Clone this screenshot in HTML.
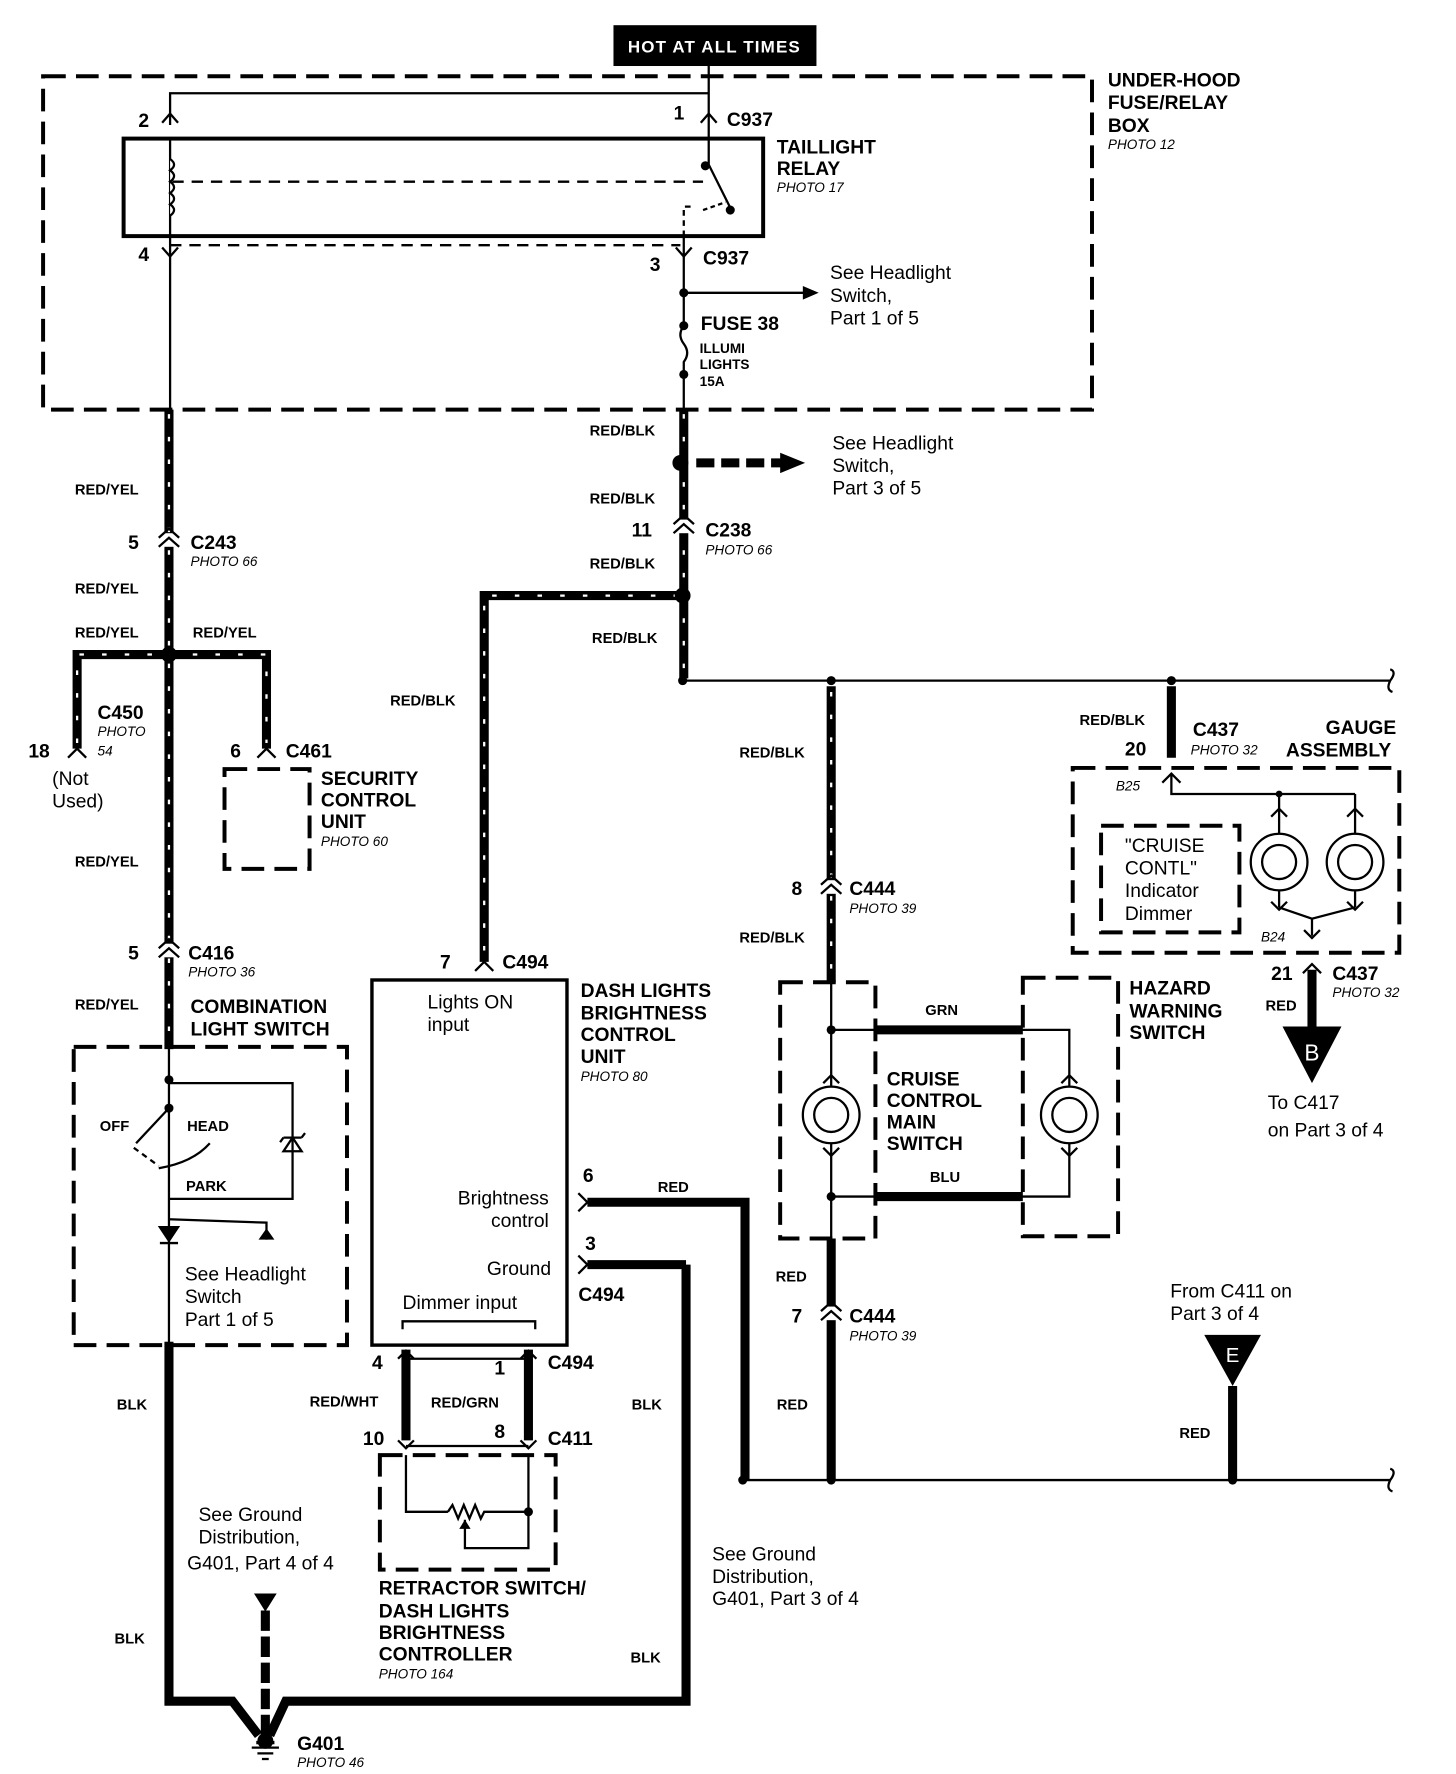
<!DOCTYPE html>
<html><head><meta charset="utf-8"><style>
html,body{margin:0;padding:0;background:#fff}
svg{display:block}
text{font-family:"Liberation Sans",Arial,sans-serif;fill:#000}
.b{font-weight:bold;font-size:17px}
.s{font-weight:bold;font-size:13px}
.n{font-size:17px}
.i{font-style:italic;font-size:12px}
.d{fill:none;stroke:#000;stroke-width:3.5;stroke-dasharray:20 9}
.t{fill:none;stroke:#000;stroke-width:2}
.w{fill:none;stroke:#000;stroke-width:8}
.st{fill:none;stroke:#fff;stroke-width:2;stroke-dasharray:4 16}
</style></head><body>
<svg width="1456" height="1774" viewBox="0 0 1284 1564" xmlns="http://www.w3.org/2000/svg">
<rect x="0" y="0" width="1284" height="1564" fill="#fff"/>
<!-- top label -->
<rect x="541" y="22" width="179" height="36" fill="#000"/>
<text x="630" y="46" text-anchor="middle" style="fill:#fff;font-size:15px;font-weight:bold;letter-spacing:1px">HOT AT ALL TIMES</text>
<line x1="625" y1="58" x2="625" y2="100" class="t"/>
<!-- fuse box -->
<rect x="38" y="67" width="925" height="294" class="d"/>
<text x="977" y="76" class="b">UNDER-HOOD</text>
<text x="977" y="96" class="b">FUSE/RELAY</text>
<text x="977" y="116" class="b">BOX</text>
<text x="977" y="131" class="i">PHOTO 12</text>
<polyline points="150,110 150,82 625,82" class="t"/>
<path d="M143,108 l7,-8 l7,8 M618,108 l7,-8 l7,8" class="t"/>
<line x1="625" y1="100" x2="625" y2="122" class="t"/>
<text x="122" y="112" class="b">2</text>
<text x="594" y="105" class="b">1</text>
<text x="641" y="111" class="b">C937</text>
<rect x="109" y="122" width="564" height="86" fill="none" stroke="#000" stroke-width="3.5"/>
<text x="685" y="135" class="b">TAILLIGHT</text>
<text x="685" y="154" class="b">RELAY</text>
<text x="685" y="169" class="i">PHOTO 17</text>
<line x1="150" y1="122" x2="150" y2="208" class="t"/>
<path d="M150,140 q7,5 0,10 q7,5 0,10 q7,5 0,10 q7,5 0,10 q7,5 0,10" fill="#fff" stroke="#000" stroke-width="2"/>
<line x1="152" y1="160" x2="620" y2="160" class="t" stroke-dasharray="10 7"/>
<polyline points="625,122 625,145 645,185" class="t"/>
<circle cx="622" cy="146" r="4"/><circle cx="644" cy="185" r="4"/>
<polyline points="603,208 603,182 612,182" class="t" stroke-dasharray="5 4"/>
<line x1="620" y1="185" x2="640" y2="178" class="t" stroke-dasharray="4 3"/>
<line x1="150" y1="208" x2="150" y2="361" class="t"/>
<line x1="150" y1="216" x2="600" y2="216" class="t" stroke-dasharray="10 7"/>
<line x1="603" y1="208" x2="603" y2="285" class="t"/>
<path d="M143,218 l7,8 l7,-8 M596,218 l7,8 l7,-8" class="t"/>
<text x="122" y="230" class="b">4</text>
<text x="573" y="239" class="b">3</text>
<text x="620" y="233" class="b">C937</text>
<circle cx="603" cy="258" r="4"/>
<line x1="603" y1="258" x2="712" y2="258" class="t"/>
<path d="M708,252 l14,6 l-14,6z"/>
<text x="732" y="246" class="n">See Headlight</text>
<text x="732" y="266" class="n">Switch,</text>
<text x="732" y="286" class="n">Part 1 of 5</text>
<circle cx="603" cy="287" r="4"/>
<path d="M603,287 q-6,8 0,16 q6,8 0,16 l0,11" class="t"/>
<circle cx="603" cy="330" r="4"/>
<line x1="603" y1="330" x2="603" y2="361" class="t"/>
<text x="618" y="291" class="b">FUSE 38</text>
<text x="617" y="311" class="s" style="font-size:12px">ILLUMI</text>
<text x="617" y="325" class="s" style="font-size:12px">LIGHTS</text>
<text x="617" y="340" class="s" style="font-size:12px">15A</text>

<!-- left main wire -->
<path d="M149,361 V1500 L205,1500 L228,1530" class="w"/>
<path d="M149,365 V1180" class="st"/>
<path d="M149,1190 V1495" class="t" stroke="#fff" stroke-dasharray="2 120" stroke-width="8"/>
<path d="M68,660 V577 H235 V660" class="w"/>
<path d="M68,655 V577 H235 V655" class="st"/>
<circle cx="149" cy="577" r="7"/>
<rect x="140" y="470" width="18" height="12" fill="#fff"/>
<path d="M140,482 l9,-8 l9,8 M140,474 l9,-8 l9,8" class="t" stroke-width="3"/>
<rect x="140" y="832" width="18" height="12" fill="#fff"/>
<path d="M140,844 l9,-8 l9,8 M140,836 l9,-8 l9,8" class="t" stroke-width="3"/>
<path d="M60,668 l8,-8 l8,8 M227,668 l8,-8 l8,8" class="t" stroke-width="3"/>
<text x="66" y="436" class="s">RED/YEL</text>
<text x="113" y="484" class="b">5</text>
<text x="168" y="484" class="b">C243</text>
<text x="168" y="499" class="i">PHOTO 66</text>
<text x="66" y="523" class="s">RED/YEL</text>
<text x="66" y="562" class="s">RED/YEL</text>
<text x="170" y="562" class="s">RED/YEL</text>
<text x="86" y="634" class="b">C450</text>
<text x="86" y="649" class="i">PHOTO</text>
<text x="86" y="666" class="i">54</text>
<text x="25" y="668" class="b">18</text>
<text x="46" y="692" class="n">(Not</text>
<text x="46" y="712" class="n">Used)</text>
<text x="203" y="668" class="b">6</text>
<text x="252" y="668" class="b">C461</text>
<rect x="198" y="678" width="75" height="88" class="d" stroke-dasharray="14 8"/>
<text x="283" y="692" class="b">SECURITY</text>
<text x="283" y="711" class="b">CONTROL</text>
<text x="283" y="730" class="b">UNIT</text>
<text x="283" y="746" class="i">PHOTO 60</text>
<text x="66" y="764" class="s">RED/YEL</text>
<text x="113" y="846" class="b">5</text>
<text x="166" y="846" class="b">C416</text>
<text x="166" y="861" class="i">PHOTO 36</text>
<text x="66" y="890" class="s">RED/YEL</text>
<text x="168" y="893" class="b">COMBINATION</text>
<text x="168" y="913" class="b">LIGHT SWITCH</text>
<rect x="65" y="923" width="241" height="263" class="d" stroke-dasharray="14 8"/>
<rect x="140" y="925" width="18" height="258" fill="#fff"/>
<line x1="149" y1="923" x2="149" y2="1186" class="t"/>
<polyline points="149,955 258,955 258,1057 149,1057" class="t"/>
<circle cx="149" cy="952" r="4"/><circle cx="149" cy="977" r="4"/>
<line x1="149" y1="977" x2="120" y2="1008" class="t" stroke-width="3"/>
<line x1="118" y1="1012" x2="140" y2="1028" class="t" stroke-dasharray="5 4"/>
<path d="M140,1030 q30,-5 45,-22" class="t" stroke-width="7"/>
<path d="M250,1015 h16 l-8,-12z M250,1003 h16 M266,1003 l3,-4 M250,1003 l-3,4"  class="t"/>
<text x="88" y="997" class="s">OFF</text>
<text x="165" y="997" class="s">HEAD</text>
<text x="164" y="1050" class="s">PARK</text>
<path d="M141,1082 h16 l-8,12z M141,1096 h16" fill="#000" stroke="#000" stroke-width="2"/>
<polyline points="149,1075 235,1078 235,1093" class="t"/>
<path d="M228,1093 h14 l-7,-10z"/>
<text x="163" y="1129" class="n">See Headlight</text>
<text x="163" y="1149" class="n">Switch</text>
<text x="163" y="1169" class="n">Part 1 of 5</text>
<text x="103" y="1243" class="s">BLK</text>
<text x="101" y="1449" class="s">BLK</text>
<text x="175" y="1341" class="n">See Ground</text>
<text x="175" y="1361" class="n">Distribution,</text>
<text x="165" y="1384" class="n">G401, Part 4 of 4</text>
<path d="M224,1405 h20 l-10,16z"/>
<line x1="234" y1="1420" x2="234" y2="1530" stroke="#000" stroke-width="8" stroke-dasharray="18 5"/>
<path d="M605,1115 V1500 L252,1500 L238,1530" class="w"/>
<circle cx="234" cy="1535" r="7"/>
<rect x="226" y="1535" width="16" height="3"/>
<line x1="222" y1="1541" x2="246" y2="1541" class="t"/>
<line x1="227" y1="1546" x2="241" y2="1546" class="t"/>
<line x1="231" y1="1551" x2="237" y2="1551" class="t"/>
<text x="262" y="1543" class="b">G401</text>
<text x="262" y="1558" class="i">PHOTO 46</text>

<!-- right red/blk wire -->
<path d="M603,361 V598" class="w"/>
<path d="M603,365 V595" class="st"/>
<path d="M602,525 H427 V848" class="w"/>
<path d="M598,525 H427 V845" class="st"/>
<circle cx="600" cy="408" r="7"/>
<line x1="614" y1="408" x2="690" y2="408" stroke="#000" stroke-width="8" stroke-dasharray="16 6"/>
<path d="M688,399 l22,9 l-22,9z"/>
<text x="734" y="396" class="n">See Headlight</text>
<text x="734" y="416" class="n">Switch,</text>
<text x="734" y="436" class="n">Part 3 of 5</text>
<text x="520" y="384" class="s">RED/BLK</text>
<text x="520" y="444" class="s">RED/BLK</text>
<rect x="594" y="458" width="18" height="12" fill="#fff"/>
<path d="M594,470 l9,-8 l9,8 M594,462 l9,-8 l9,8" class="t" stroke-width="3"/>
<text x="557" y="473" class="b">11</text>
<text x="622" y="473" class="b">C238</text>
<text x="622" y="489" class="i">PHOTO 66</text>
<text x="520" y="501" class="s">RED/BLK</text>
<circle cx="602" cy="525" r="7"/>
<text x="522" y="567" class="s">RED/BLK</text>
<text x="344" y="622" class="s">RED/BLK</text>
<circle cx="602" cy="600" r="4"/>
<line x1="602" y1="600" x2="1226" y2="600" class="t"/>
<path d="M1226,600 q6,-8 0,-10 M1226,600 q-4,8 2,10" class="t"/>
<circle cx="733" cy="600" r="4"/><circle cx="1033" cy="600" r="4"/>
<path d="M733,605 V866" class="w"/>
<path d="M733,610 V860" class="st"/>
<path d="M1033,605 V668" class="w"/>
<text x="652" y="668" class="s">RED/BLK</text>
<rect x="724" y="776" width="18" height="12" fill="#fff"/>
<path d="M724,788 l9,-8 l9,8 M724,780 l9,-8 l9,8" class="t" stroke-width="3"/>
<text x="698" y="789" class="b">8</text>
<text x="749" y="789" class="b">C444</text>
<text x="749" y="805" class="i">PHOTO 39</text>
<text x="652" y="831" class="s">RED/BLK</text>
<text x="952" y="639" class="s">RED/BLK</text>
<text x="992" y="666" class="b">20</text>
<text x="1052" y="649" class="b">C437</text>
<text x="1050" y="665" class="i">PHOTO 32</text>
<text x="1169" y="647" class="b">GAUGE</text>
<text x="1134" y="667" class="b">ASSEMBLY</text>
<rect x="946" y="677" width="288" height="163" class="d" stroke-dasharray="14 8"/>
<path d="M1025,690 l8,-8 l8,8" class="t"/>
<polyline points="1033,682 1033,700 1195,700" class="t"/>
<circle cx="1128" cy="700" r="3"/>
<path d="M1128,700 V715 M1195,700 V715 M1121,720 l7,-7 l7,7 M1188,720 l7,-7 l7,7" class="t"/>
<circle cx="1128" cy="760" r="25" class="t" stroke-width="4"/>
<circle cx="1195" cy="760" r="25" class="t" stroke-width="4"/>
<circle cx="1128" cy="760" r="15" class="t"/><circle cx="1195" cy="760" r="15" class="t"/>
<path d="M1128,715 V735 M1195,715 V735 M1128,785 V800 M1195,785 V800 M1121,795 l7,7 l7,-7 M1188,795 l7,7 l7,-7" class="t"/>
<polyline points="1128,800 1157,810 1195,800" class="t"/>
<path d="M1157,810 V825 M1150,820 l7,7 l7,-7" class="t"/>
<text x="984" y="697" class="i">B25</text>
<text x="1112" y="830" class="i">B24</text>
<rect x="971" y="728" width="122" height="94" class="d" stroke-dasharray="14 8"/>
<text x="992" y="751" class="n">"CRUISE</text>
<text x="992" y="771" class="n">CONTL"</text>
<text x="992" y="791" class="n">Indicator</text>
<text x="992" y="811" class="n">Dimmer</text>
<path d="M1149,858 l8,-8 l8,8" class="t" stroke-width="3"/>
<path d="M1157,855 V905" class="w"/>
<text x="1121" y="864" class="b">21</text>
<text x="1175" y="864" class="b">C437</text>
<text x="1175" y="879" class="i">PHOTO 32</text>
<text x="1116" y="891" class="s">RED</text>
<path d="M1131,905 h52 l-26,50z"/>
<text x="1157" y="935" text-anchor="middle" style="fill:#fff;font-size:20px">B</text>
<text x="1118" y="978" class="n">To C417</text>
<text x="1118" y="1002" class="n">on Part 3 of 4</text>

<!-- cruise / hazard -->
<rect x="688" y="866" width="84" height="226" class="d" stroke-dasharray="14 8"/>
<rect x="902" y="862" width="84" height="228" class="d" stroke-dasharray="14 8"/>
<line x1="733" y1="866" x2="733" y2="958" class="t"/>
<line x1="733" y1="1008" x2="733" y2="1092" class="t"/>
<circle cx="733" cy="983" r="25" class="t" stroke-width="4"/><circle cx="733" cy="983" r="15" class="t"/>
<circle cx="943" cy="983" r="25" class="t" stroke-width="4"/><circle cx="943" cy="983" r="15" class="t"/>
<path d="M726,955 l7,-7 l7,7 M726,1012 l7,7 l7,-7 M936,955 l7,-7 l7,7 M936,1012 l7,7 l7,-7" class="t"/>
<polyline points="733,908 943,908 943,958" class="t"/>
<polyline points="733,1055 943,1055 943,1008" class="t"/>
<line x1="772" y1="908" x2="902" y2="908" stroke="#000" stroke-width="8"/>
<line x1="772" y1="1055" x2="902" y2="1055" stroke="#000" stroke-width="8"/>
<circle cx="733" cy="908" r="4"/><circle cx="733" cy="1055" r="4"/>
<text x="816" y="895" class="s">GRN</text>
<text x="820" y="1042" class="s">BLU</text>
<text x="782" y="957" class="b">CRUISE</text>
<text x="782" y="976" class="b">CONTROL</text>
<text x="782" y="995" class="b">MAIN</text>
<text x="782" y="1014" class="b">SWITCH</text>
<text x="996" y="877" class="b">HAZARD</text>
<text x="996" y="897" class="b">WARNING</text>
<text x="996" y="916" class="b">SWITCH</text>
<path d="M733,1092 V1305" class="w"/>
<rect x="724" y="1152" width="18" height="12" fill="#fff"/>
<path d="M724,1164 l9,-8 l9,8 M724,1156 l9,-8 l9,8" class="t" stroke-width="3"/>
<text x="684" y="1130" class="s">RED</text>
<text x="698" y="1166" class="b">7</text>
<text x="749" y="1166" class="b">C444</text>
<text x="749" y="1182" class="i">PHOTO 39</text>
<text x="685" y="1243" class="s">RED</text>
<line x1="655" y1="1305" x2="1226" y2="1305" class="t"/>
<path d="M1226,1305 q6,-8 0,-10 M1226,1305 q-4,8 2,10" class="t"/>
<circle cx="655" cy="1305" r="4"/><circle cx="733" cy="1305" r="4"/><circle cx="1087" cy="1305" r="4"/>
<text x="1032" y="1144" class="n">From C411 on</text>
<text x="1032" y="1164" class="n">Part 3 of 4</text>
<path d="M1062,1177 h50 l-25,45z"/>
<text x="1087" y="1201" text-anchor="middle" style="fill:#fff;font-size:18px">E</text>
<path d="M1087,1222 V1305" class="w"/>
<text x="1040" y="1268" class="s">RED</text>

<!-- dash lights unit -->
<rect x="328" y="864" width="172" height="322" fill="none" stroke="#000" stroke-width="3"/>
<path d="M419,856 l8,-8 l8,8" class="t" stroke-width="3"/>
<text x="388" y="854" class="b">7</text>
<text x="443" y="854" class="b">C494</text>
<text x="377" y="889" class="n">Lights ON</text>
<text x="377" y="909" class="n">input</text>
<text x="512" y="879" class="b">DASH LIGHTS</text>
<text x="512" y="899" class="b">BRIGHTNESS</text>
<text x="512" y="918" class="b">CONTROL</text>
<text x="512" y="937" class="b">UNIT</text>
<text x="512" y="953" class="i">PHOTO 80</text>
<text x="484" y="1062" class="n" text-anchor="end">Brightness</text>
<text x="484" y="1082" class="n" text-anchor="end">control</text>
<text x="486" y="1124" class="n" text-anchor="end">Ground</text>
<text x="355" y="1154" class="n">Dimmer input</text>
<polyline points="355,1172 355,1165 472,1165 472,1172" class="t"/>
<path d="M510,1052 l8,8 l-8,8 M510,1107 l8,8 l-8,8" class="t" stroke-width="3"/>
<path d="M518,1060 H657 V1305" class="w"/>
<path d="M518,1115 H605" class="w"/>
<text x="514" y="1042" class="b">6</text>
<text x="580" y="1051" class="s">RED</text>
<text x="516" y="1102" class="b">3</text>
<text x="510" y="1147" class="b">C494</text>
<text x="557" y="1243" class="s">BLK</text>
<text x="556" y="1466" class="s">BLK</text>
<path d="M358,1190 V1270 M466,1190 V1270" class="w"/>
<path d="M351,1198 l7,-7 l7,7 M459,1198 l7,-7 l7,7 M351,1270 l7,7 l7,-7 M459,1270 l7,7 l7,-7" class="t" stroke-width="3"/>
<line x1="358" y1="1198" x2="466" y2="1198" class="t"/>
<line x1="358" y1="1275" x2="466" y2="1275" class="t"/>
<text x="328" y="1207" class="b">4</text>
<text x="436" y="1212" class="b">1</text>
<text x="483" y="1207" class="b">C494</text>
<text x="273" y="1240" class="s">RED/WHT</text>
<text x="380" y="1241" class="s">RED/GRN</text>
<text x="320" y="1274" class="b">10</text>
<text x="436" y="1268" class="b">8</text>
<text x="483" y="1274" class="b">C411</text>
<rect x="335" y="1283" width="155" height="101" class="d" stroke-dasharray="14 8"/>
<polyline points="358,1283 358,1333 395,1333" class="t"/>
<path d="M395,1333 l4,-6 l5,12 l5,-12 l5,12 l5,-12 l5,12 l3,-6 H466 V1283" class="t"/>
<circle cx="466" cy="1333" r="4"/>
<polyline points="410,1340 410,1365 466,1365 466,1335" class="t"/>
<path d="M405,1348 l5,-8 l5,8z"/>
<text x="334" y="1406" class="b">RETRACTOR SWITCH/</text>
<text x="334" y="1426" class="b">DASH LIGHTS</text>
<text x="334" y="1445" class="b">BRIGHTNESS</text>
<text x="334" y="1464" class="b">CONTROLLER</text>
<text x="334" y="1480" class="i">PHOTO 164</text>
<text x="628" y="1376" class="n">See Ground</text>
<text x="628" y="1396" class="n">Distribution,</text>
<text x="628" y="1415" class="n">G401, Part 3 of 4</text>
</svg>
</body></html>
